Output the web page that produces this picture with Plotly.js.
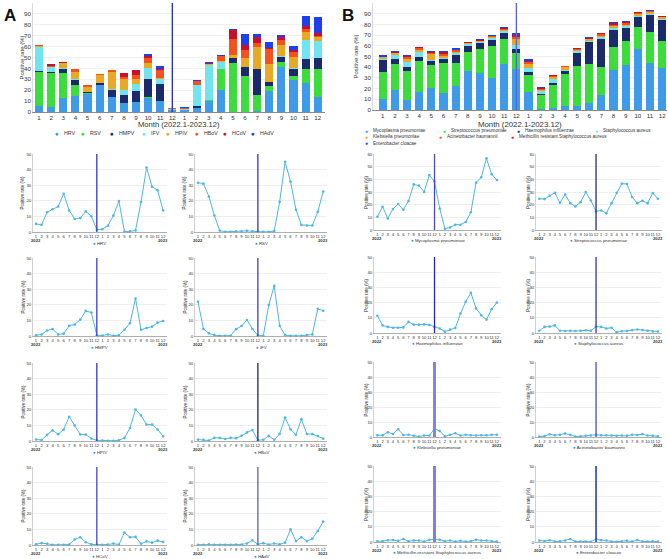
<!DOCTYPE html>
<html>
<head>
<meta charset="utf-8">
<script src="https://cdn.plot.ly/plotly-3.0.1.min.js"></script>
<style>
  html, body { margin: 0; padding: 0; background: #ffffff; }
  #chart { width: 668px; height: 559px; }
</style>
</head>
<body>
<div id="chart"></div>
<script>
// Month categories, January 2022 to December 2023
const monthLabels = ['1','2','3','4','5','6','7','8','9','10','11','12',
                     '1','2','3','4','5','6','7','8','9','10','11','12'];
const yearLabels = ['2022', '2023'];

// A: respiratory viruses, monthly positive rate (%)
const virusNames = ['HRV', 'RSV', 'HMPV', 'IFV', 'HPIV', 'HBoV', 'HCoV', 'HAdV'];
const HRV  = [5.2, 4.6, 12.7, 14.6, 16.3, 24.5, 13.8, 8.3, 8.9, 13.2, 10.1, 1.5, 1.8, 4.0, 10.5, 19.8, 0.3, 0.4, 1.0, 19.2, 41.3, 29.0, 26.8, 13.8];
const RSV  = [31.6, 31.0, 22.8, 10.6, 0.9, 0.2, 0.2, 0.3, 0.3, 0.8, 0.4, 0.1, 0.1, 0.1, 0.6, 19.3, 45.0, 32.4, 14.3, 4.5, 4.2, 4.2, 12.9, 26.0];
const HMPV = [0.5, 1.0, 3.5, 4.5, 1.0, 1.5, 6.6, 7.4, 10.5, 16.1, 15.0, 0.5, 0.3, 1.0, 0.2, 0.5, 4.0, 8.2, 24.0, 4.0, 5.1, 6.0, 8.6, 9.6];
const IFV  = [22.0, 4.5, 1.7, 0.6, 0.2, 0.2, 0.2, 4.4, 6.4, 10.3, 4.5, 0.4, 0.2, 19.8, 32.1, 6.6, 0.6, 0.1, 0.1, 0.1, 0.6, 1.0, 17.4, 16.2];
const HPIV = [1.0, 0.6, 4.0, 6.8, 4.4, 7.3, 15.5, 10.0, 4.2, 4.1, 1.6, 0.4, 0.3, 0.2, 0.2, 0.5, 2.0, 8.3, 20.2, 16.4, 10.5, 10.5, 7.4, 3.0];
const HBoV = [0.9, 0.7, 0.3, 2.0, 2.0, 1.3, 2.0, 1.8, 3.3, 5.5, 7.0, 0.5, 0.8, 3.3, 0.8, 4.5, 15.0, 7.5, 4.0, 14.0, 4.5, 4.5, 3.2, 1.5];
const HCoV = [0.5, 1.2, 0.8, 0.2, 0.1, 0.1, 0.3, 3.5, 5.0, 1.8, 0.4, 0.2, 0.2, 0.3, 0.9, 0.3, 8.0, 5.0, 5.2, 0.8, 2.3, 1.5, 2.8, 2.0];
const HAdV = [0.2, 0.2, 0.5, 0.2, 0.1, 0.1, 0.1, 0.3, 0.3, 1.0, 3.0, 0.5, 1.2, 0.3, 1.0, 0.4, 1.5, 10.0, 2.5, 5.0, 2.5, 4.0, 9.0, 15.0];
const virusSeries = [HRV, RSV, HMPV, IFV, HPIV, HBoV, HCoV, HAdV];

// B: bacteria, monthly positive rate (%)
const bacteriaNames = ['Mycoplasma pneumoniae', 'Streptococcus pneumoniae', 'Haemophilus influenzae',
                       'Staphylococcus aureus', 'Klebsiella pneumoniae', 'Acinetobacter baumannii',
                       'Methicillin resistant Staphylococcus aureus', 'Enterobacter cloacae'];
const bacteriaPanelNames = ['Mycoplasma pneumoniae', 'Streptococcus pneumoniae', 'Haemophilus influenzae',
                            'Staphylococcus aureus', 'Klebsiella pneumoniae', 'Acinetobacter baumannii',
                            'Methicillin-resistant Staphylococcus aureus', 'Enterobacter cloacae'];
const MP   = [10.5, 18.4, 9.2, 16.6, 20.5, 16.0, 22.9, 36.0, 35.0, 30.0, 43.4, 38.2, 17.0, 1.0, 2.0, 4.2, 4.2, 6.3, 14.0, 37.4, 41.6, 56.6, 44.0, 39.5];
const SP   = [24.7, 24.4, 27.0, 29.4, 21.5, 28.0, 21.2, 18.6, 22.0, 30.0, 23.3, 14.8, 15.4, 13.3, 21.2, 29.4, 36.6, 36.3, 26.0, 21.2, 23.0, 21.2, 29.2, 24.7];
const HI   = [11.3, 5.0, 4.0, 3.5, 3.5, 3.7, 7.3, 5.5, 5.5, 5.7, 5.3, 4.0, 3.0, 0.9, 2.2, 3.3, 12.8, 20.6, 26.5, 16.2, 11.7, 8.8, 15.7, 20.1];
const SA   = [1.5, 4.0, 4.2, 5.0, 1.5, 1.3, 1.5, 1.3, 1.5, 1.8, 1.5, 4.2, 4.0, 3.0, 3.5, 0.5, 1.2, 1.3, 1.8, 2.3, 2.0, 1.5, 1.0, 1.0];
const KP   = [1.2, 1.2, 3.2, 2.0, 5.2, 1.3, 1.5, 0.8, 0.3, 1.0, 1.0, 5.5, 4.0, 0.5, 1.5, 2.5, 1.0, 1.5, 1.2, 1.0, 1.2, 1.2, 1.5, 1.5];
const AB   = [0.3, 0.6, 1.8, 1.2, 1.5, 2.3, 1.5, 0.3, 0.5, 0.8, 1.0, 1.5, 1.2, 1.2, 1.0, 0.8, 1.0, 0.8, 1.5, 1.3, 2.0, 1.0, 0.8, 0.5];
const MRSA = [0.5, 0.5, 1.2, 1.3, 0.8, 2.0, 0.5, 1.0, 1.0, 0.3, 1.5, 1.8, 1.5, 0.5, 1.0, 0.3, 0.8, 0.3, 0.5, 1.5, 1.0, 1.0, 0.5, 0.3];
const EC   = [1.0, 0.7, 1.2, 0.3, 0.5, 1.0, 2.0, 0.3, 0.3, 0.3, 0.2, 2.0, 1.2, 1.0, 0.3, 0.2, 0.3, 0.8, 0.3, 1.3, 0.3, 0.3, 0.5, 0.3];
const bacteriaSeries = [MP, SP, HI, SA, KP, AB, MRSA, EC];

// Shared palette for the stacked bars
const stackColors = ['#3d9be9', '#3ddc3d', '#1b2a6b', '#72e4f0', '#e8a925', '#f4511e', '#c8102e', '#1f3fef'];
const lineColor = '#4db6e4';
const dotColor = '#2f8fe6';

// ---------------------------------------------------------------------------
const W = 668, H = 559;
const FONT = 'Liberation Sans, Arial, Helvetica, sans-serif';
const TXT = '#333333';
const fx = p => p / W;
const fy = p => 1 - p / H;
const pos = monthLabels.map((_, i) => i);
const splitIndex = 11; // December 2022

const data = [];
const annotations = [];
const shapes = [];
const layout = {
  width: W, height: H,
  margin: { l: 0, r: 0, t: 0, b: 0 },
  paper_bgcolor: '#ffffff', plot_bgcolor: '#ffffff',
  showlegend: false, barmode: 'stack', bargap: 0.33,
  font: { family: FONT, color: TXT },
  hovermode: false
};

function keys(n) {
  const s = n === 1 ? '' : String(n);
  return { xa: 'xaxis' + s, ya: 'yaxis' + s, x: 'x' + s, y: 'y' + s };
}

function label(text, x, y, size, opts) {
  annotations.push(Object.assign({
    text, x: fx(x), y: fy(y), xref: 'paper', yref: 'paper', showarrow: false,
    font: { family: FONT, size, color: TXT }, xanchor: 'center', yanchor: 'middle'
  }, opts || {}));
}

function divider(k, color, width) {
  shapes.push({ type: 'line', xref: k.x, yref: k.y + ' domain', x0: splitIndex, x1: splitIndex,
                y0: 0, y1: 1, line: { color, width }, layer: 'above' });
}

function legendEntry(name, color, dotX, y, size, dotSize, gap) {
  label('●', dotX, y, dotSize, { font: { family: FONT, size: dotSize, color } });
  label(name, dotX + gap, y, size, { xanchor: 'left' });
}

function barPanel(n, box, names, series, xr, cfg) {
  const k = keys(n);
  series.forEach((vals, i) => data.push({
    type: 'bar', name: names[i], x: pos, y: vals, xaxis: k.x, yaxis: k.y,
    marker: { color: stackColors[i], line: { width: 0 } }, hoverinfo: 'skip'
  }));
  layout[k.xa] = {
    domain: [fx(box.l), fx(box.r)], anchor: k.y, range: xr,
    tickmode: 'array', tickvals: pos, ticktext: monthLabels, tickangle: 0, ticks: '',
    tickfont: { size: 6.2, color: TXT }, showline: true, linecolor: '#8a8a8a', linewidth: 1,
    showgrid: false, zeroline: false, fixedrange: true
  };
  layout[k.ya] = {
    domain: [fy(box.b), fy(box.t)], anchor: k.x, range: [0, 100],
    tickmode: 'linear', tick0: 0, dtick: 10, ticks: '',
    tickfont: { size: 6.2, color: TXT }, showgrid: true, gridcolor: '#e6e6e6', gridwidth: 0.6,
    showline: true, linecolor: '#d0d0d0', linewidth: 0.8, zeroline: false, fixedrange: true
  };
  divider(k, cfg.splitColor, 1.4);
  label('Positive rate (%)', cfg.ytitleX, (box.t + box.b) / 2, 6, { textangle: -90 });
  label('Month (2022.1-2023.12)', (box.l + box.r) / 2, cfg.xtitleY, cfg.xtitleSize);
  cfg.legend.forEach(row => row.dots.forEach((dotX, j) => {
    const i = row.items[j];
    legendEntry(names[i], stackColors[i], dotX, row.y, cfg.legendSize, cfg.dotSize, cfg.legendGap);
  }));
}

function linePanel(n, box, name, vals, ymax, xr, cfg) {
  const k = keys(n);
  data.push({
    type: 'scatter', mode: 'lines+markers', x: pos, y: vals, xaxis: k.x, yaxis: k.y,
    line: { color: lineColor, width: 1 }, marker: { color: lineColor, size: 2.6 },
    hoverinfo: 'skip', cliponaxis: false
  });
  layout[k.xa] = {
    domain: [fx(box.l), fx(box.r)], anchor: k.y, range: xr,
    tickmode: 'array', tickvals: pos, ticktext: monthLabels, tickangle: 0, ticks: '',
    tickfont: { size: 4.2, color: TXT }, showline: true, linecolor: '#9a9a9a', linewidth: 0.8,
    showgrid: false, zeroline: false, fixedrange: true
  };
  layout[k.ya] = {
    domain: [fy(box.b), fy(box.t)], anchor: k.x, range: [0, ymax],
    tickmode: 'linear', tick0: 0, dtick: 10, ticks: '',
    tickfont: { size: 4.4, color: TXT }, showgrid: true, gridcolor: '#e2e2e2', gridwidth: 0.6,
    showline: true, linecolor: '#c4c4c4', linewidth: 0.8, zeroline: false, fixedrange: true
  };
  divider(k, cfg.splitColor, cfg.splitWidth);
  const tickPx = i => box.l + (i - xr[0]) / (xr[1] - xr[0]) * (box.r - box.l);
  label('<b>' + yearLabels[0] + '</b>', tickPx(0), box.b + cfg.yearDy, 4.2);
  label('<b>' + yearLabels[1] + '</b>', tickPx(pos.length - 1), box.b + cfg.yearDy, 4.2);
  label('Positive rate (%)', box.l - cfg.ytitleDx, (box.t + box.b) / 2, 4.5, { textangle: -90 });
  const cx = (box.l + box.r) / 2;
  label('<span style="color:' + dotColor + '">●</span> ' + name, cx, box.b + cfg.legendDy, 4.4);
}

// Panel letters
label('<b>A</b>', 2, 4, 17, { xanchor: 'left', yanchor: 'top', font: { family: FONT, size: 17, color: '#111' } });
label('<b>B</b>', 340, 4, 17, { xanchor: 'left', yanchor: 'top', font: { family: FONT, size: 17, color: '#111' } });

// Stacked bars
barPanel(1, { l: 33, r: 325, t: 3, b: 112 }, virusNames, virusSeries, [-0.5, 23.6], {
  splitColor: '#2b3aa0', ytitleX: 22, xtitleY: 124.5, xtitleSize: 7.6,
  legendSize: 5.3, dotSize: 6.6, legendGap: 5,
  legend: [{ y: 133, items: [0, 1, 2, 3, 4, 5, 6, 7], dots: [57, 83, 112, 144, 168, 197, 225, 253] }]
});
barPanel(2, { l: 373, r: 667, t: 3, b: 110 }, bacteriaNames, bacteriaSeries, [-0.8, 23.4], {
  splitColor: '#5a68d6', ytitleX: 356, xtitleY: 124, xtitleSize: 7.8,
  legendSize: 4.6, dotSize: 5.2, legendGap: 5,
  legend: [
    { y: 130.5, items: [0, 1, 2, 3], dots: [366, 444, 518, 596] },
    { y: 137, items: [4, 5, 6], dots: [366, 440, 512] },
    { y: 143.5, items: [7], dots: [366] }
  ]
});

// Small multiples, A
const aCols = [{ l: 33, r: 167 }, { l: 195, r: 327 }];
const aRows = [[154, 232], [258, 336], [363, 441], [467, 545]];
const aSplit = ['#3434c8', '#3434c8', '#3c3cd0', '#3c3cd0', '#3434c8', '#22226a', '#4646c8', '#5a5ad0'];
virusNames.forEach((nm, i) => {
  const c = aCols[i % 2], r = aRows[Math.floor(i / 2)];
  linePanel(3 + i, { l: c.l, r: c.r, t: r[0], b: r[1] }, nm, virusSeries[i], 50, [-0.55, 23.7], {
    splitColor: aSplit[i], splitWidth: 1.3, yearDy: 8.6, legendDy: 11.6, ytitleDx: 10.5
  });
});

// Small multiples, B
const bCols = [{ l: 374, r: 501 }, { l: 536, r: 662 }];
const bRows = [[154, 230], [257, 333], [362, 437], [466, 542]];
const bSplit = [
  { c: '#4848c8', w: 1.3 }, { c: '#26268a', w: 1.3 }, { c: '#2222c4', w: 1.3 }, { c: '#3030c0', w: 1.3 },
  { c: '#8484dc', w: 3 }, { c: '#4a4ad4', w: 1.3 }, { c: '#8080dc', w: 3 }, { c: '#4050d4', w: 1.8 }
];
bacteriaPanelNames.forEach((nm, i) => {
  const c = bCols[i % 2], r = bRows[Math.floor(i / 2)];
  linePanel(11 + i, { l: c.l, r: c.r, t: r[0], b: r[1] }, nm, bacteriaSeries[i], i < 2 ? 60 : 50, [-0.65, 23.8], {
    splitColor: bSplit[i].c, splitWidth: bSplit[i].w, yearDy: 8.6, legendDy: 10.8, ytitleDx: 8
  });
});

layout.annotations = annotations;
layout.shapes = shapes;
Plotly.newPlot('chart', data, layout, { staticPlot: true, displayModeBar: false });
</script>
</body>
</html>
